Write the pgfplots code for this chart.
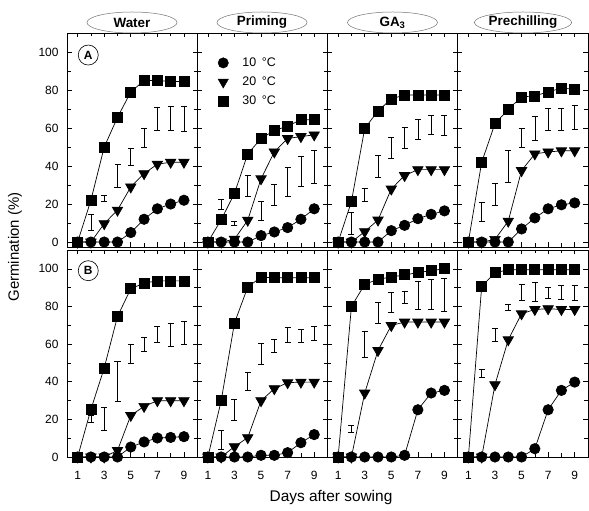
\documentclass[border=0pt]{standalone}
\usepackage{fontspec}
\setmainfont{Liberation Sans}
\usepackage{pgfplots}
\pgfplotsset{compat=1.18}
\usepackage{pgfplotstable}
\usetikzlibrary{shapes.geometric}

\pgfplotstableread{
d t10 t20 t30 m e
1 0 0 0 nan 0
2 0 0 22 10.3 4.3
3 0 9.7 50 23 1.8
4 0 16.8 65.6 35 6
5 5 29 79 45 4.5
6 12 36 85 55 5
7 17.5 41 85 65 6
8 20 42 84.5 65 6.2
9 22 42 84.5 65 6.6
}\tWA
\pgfplotstableread{
d t10 t20 t30 m e
1 0 0 0 nan 0
2 0 0 11.7 19.8 2.8
3 0 1.5 25.6 9.8 1.2
4 0 11.5 46.4 29.7 5.4
5 3.4 33.3 54.5 16.7 5
6 5.3 47.4 58.7 25 5.5
7 7.6 54.5 61 31.8 7.5
8 12 55.5 64.4 37.2 7.9
9 17.5 56.4 64.4 39.6 8.7
}\tPA
\pgfplotstableread{
d t10 t20 t30 m e
1 0 0 0 nan 0
2 0 0 21.3 9.9 6
3 0 5.5 59.8 24.7 3.5
4 0 11.6 69 39.7 5.8
5 6 27.9 75.3 49.6 5.6
6 8.8 35 77.4 54.9 5.5
7 12.3 38.1 77.4 59.4 5.1
8 14.6 38.1 77.4 61.8 5
9 16.4 38.1 77.4 61.5 5.1
}\tGA
\pgfplotstableread{
d t10 t20 t30 m e
1 0 0 0 nan 0
2 0 0 42 16 4.9
3 0 1.4 62.3 25 5.8
4 0 11 69.8 39.8 8.6
5 6.9 37.6 76.4 54.7 5
6 12.7 46.4 76.9 59.9 6.4
7 17.5 47.4 79 64.6 5.7
8 19.6 48 81 64.7 5.8
9 20.6 48 80.4 65.7 6.4
}\tCA
\pgfplotstableread{
d t10 t20 t30 m e
1 0 0 0 nan 0
2 0 0 25.3 20.4 1.8
3 0 0 47.3 20.1 6.1
4 0 3.5 74.7 40.4 10.6
5 5.3 22.1 89.4 55 5.1
6 8 26.9 92.4 59.9 3.8
7 10.1 29.9 93.6 65.3 4.2
8 10.4 29.9 93.6 65 6
9 10.8 29.9 93.6 65.9 6.1
}\tWB
\pgfplotstableread{
d t10 t20 t30 m e
1 0 0 0 nan 0
2 0 0 29.9 9 5
3 0 5.5 71.2 25.1 5.6
4 0 10.3 90.3 40 4.8
5 0.9 29.9 95.6 55 5.5
6 0.9 36.3 95.2 59.3 3.5
7 2.3 39.5 95.2 64.9 3.8
8 7.6 39.8 95.2 64.6 3.5
9 11.9 39.8 95.2 65.8 3.7
}\tPB
\pgfplotstableread{
d t10 t20 t30 m e
1 0 0 0 nan 0
2 0 0 80 15 1.8
3 0 34 91.7 60 6.9
4 0 56.6 94.5 76.8 5.5
5 0 69.9 95.6 82 5.3
6 0.9 71.7 96.8 85 3.2
7 25.1 71.7 97.9 85.8 7.5
8 34 71.7 99.1 86.3 8
9 35.4 71.7 100 86 8.7
}\tGB
\pgfplotstableread{
d t10 t20 t30 m e
1 0 0 0 nan 0
2 0 0 90.6 44.4 2
3 0 38.4 97.9 64.9 3.3
4 0 62.3 99.5 79.6 1.8
5 0 76.1 99.5 87.6 4.1
6 4.4 78.4 99.5 87.7 4.9
7 25.1 78.8 99.5 87.3 3.1
8 35.4 78.4 99.5 87.4 3.7
9 39.8 78.4 99.5 87.2 4
}\tCB

\pgfplotsset{
  panel/.style={scale only axis, width=130.25bp, anchor=south west,
    xmin=0.2, xmax=10, xtick={1,3,5,7,9}, minor xtick={2,4,6,8},
    ytick={0,20,...,100}, minor ytick={10,30,...,90},
    major tick length=4.5bp, minor tick length=3.5bp,
    tick style={black, line width=0.6bp},
    axis line style={black, line width=0.8bp},
    clip=false,
    tick label style={font=\fontsize{12}{12}\selectfont},
    /pgf/number format/assume math mode=true,
    xticklabel style={yshift=-11bp},
    yticklabel style={xshift=-5bp},
  },
  rowA/.style={height=214bp, ymin=-2.6, ymax=110, xticklabels={}},
  rowB/.style={height=207bp, ymin=0, ymax=110},
  noy/.style={yticklabels={}},
  s10/.style={black, line width=0.7bp, mark=*, mark size=5.2bp, mark options={solid, fill=black}},
  s20/.style={black, line width=0.7bp, mark=triangle*, mark size=6bp, mark options={solid, fill=black, rotate=180}},
  s30/.style={black, line width=0.7bp, mark=square*, mark size=5bp, mark options={solid, fill=black}},
  lsd/.style={draw=none, forget plot, error bars/.cd, y dir=both, y explicit,
    error bar style={draw=black, line width=0.6bp},
    error mark options={draw=black, line width=0.6bp, mark size=3bp, rotate=90}},
}

\newcommand{\panel}[1]{%
  \addplot[lsd] table[x=d, y=m, y error=e] {#1};
  \addplot[s10, forget plot] table[x=d, y=t10] {#1};
  \addplot[s20, forget plot] table[x=d, y=t20] {#1};
  \addplot[s30, forget plot] table[x=d, y=t30] {#1};
}

\begin{document}
\begin{tikzpicture}
\useasboundingbox (0,0) rectangle (589bp,511bp);

% Row A
\begin{axis}[panel, rowA, at={(67bp,264bp)}]
\panel{\tWA}
\node[circle, draw=black, line width=0.6bp, minimum size=20bp, inner sep=0pt, font=\fontsize{12}{12}\selectfont\bfseries] at (axis cs:1.8,98.4) {A};
\end{axis}
\begin{axis}[panel, rowA, noy, at={(197.25bp,264bp)},
  legend style={at={(axis cs:1.75,98.1)}, anchor=north west, draw=none, fill=none,
    font=\fontsize{12.5}{13}\selectfont, row sep=5bp, inner sep=0pt,
    /tikz/every odd column/.append style={column sep=12bp}},
  legend cell align=left]
\panel{\tPA}
\addlegendimage{only marks, mark=*, black, mark size=5.2bp}
\addlegendentry{10 \,°C}
\addlegendimage{only marks, mark=triangle*, black, mark size=6bp, mark options={rotate=180}}
\addlegendentry{20 \,°C}
\addlegendimage{only marks, mark=square*, black, mark size=5bp}
\addlegendentry{30 \,°C}
\end{axis}
\begin{axis}[panel, rowA, noy, at={(327.5bp,264bp)}]
\panel{\tGA}
\end{axis}
\begin{axis}[panel, rowA, noy, at={(457.75bp,264bp)}]
\panel{\tCA}
\end{axis}

% Row B
\begin{axis}[panel, rowB, at={(67bp,54bp)}]
\panel{\tWB}
\node[circle, draw=black, line width=0.6bp, minimum size=20bp, inner sep=0pt, font=\fontsize{12}{12}\selectfont\bfseries] at (axis cs:1.8,99) {B};
\end{axis}
\begin{axis}[panel, rowB, noy, at={(197.25bp,54bp)}]
\panel{\tPB}
\end{axis}
\begin{axis}[panel, rowB, noy, at={(327.5bp,54bp)}]
\panel{\tGB}
\end{axis}
\begin{axis}[panel, rowB, noy, at={(457.75bp,54bp)}]
\panel{\tCB}
\end{axis}

% headers
\foreach \cx/\txt in {132/Water, 262/Priming, 392.5/GA\textsubscript{3}, 523/Prechilling}{
  \node[ellipse, draw=black!55, line width=0.5bp, minimum width=90bp, minimum height=21bp, inner sep=0pt,
        font=\fontsize{13.5}{14}\selectfont\bfseries] at (\cx bp,488.5bp) {\txt};
}

\node[rotate=90, font=\fontsize{15}{16}\selectfont] at (15bp,264bp) {Germination (\%)};
\node[font=\fontsize{15.5}{16}\selectfont] at (331bp,13bp) {Days after sowing};
\end{tikzpicture}
\end{document}
